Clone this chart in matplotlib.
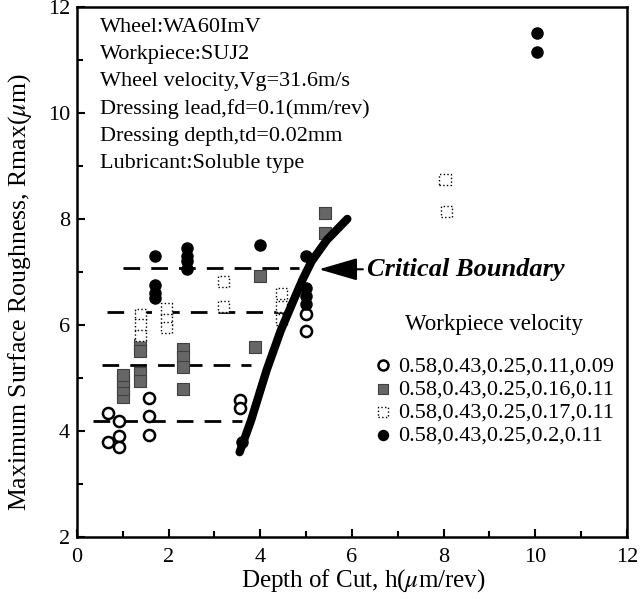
import matplotlib
matplotlib.use('Agg')
import matplotlib.pyplot as plt
from matplotlib.ticker import MultipleLocator

plt.rcParams['font.family'] = ['Liberation Serif', 'DejaVu Serif']
plt.rcParams['mathtext.fontset'] = 'stix'

# workpiece velocity groups
open_h = [0.68, 0.92, 0.68, 0.92, 0.92, 1.58, 1.58, 1.58, 3.56, 3.56, 5.0, 5.0]
open_r = [4.33, 4.19, 3.80, 3.91, 3.70, 4.62, 4.28, 3.92, 4.58, 4.43, 6.21, 5.89]

grey_h = [1.0, 1.0, 1.0, 1.0, 1.38, 1.38, 1.38, 1.38, 2.31, 2.31, 2.31, 2.31, 3.89, 4.0, 5.41, 5.41]
grey_r = [4.65, 4.8, 4.95, 5.05, 5.62, 5.5, 5.1, 4.95, 5.55, 5.4, 5.2, 4.8, 5.59, 6.93, 8.11, 7.74]

dot_h = [1.38, 1.38, 1.38, 1.96, 1.96, 1.96, 3.19, 3.19, 4.47, 4.47, 4.47, 8.03, 8.07]
dot_r = [6.2, 6.0, 5.8, 6.3, 6.1, 5.95, 6.82, 6.35, 6.6, 6.35, 6.1, 8.74, 8.14]

fill_h = [1.70, 1.70, 1.70, 1.70, 2.40, 2.40, 2.40, 2.40, 4.0, 5.0, 5.0, 5.0, 5.0, 3.6, 10.04, 10.04]
fill_r = [7.30, 6.75, 6.6, 6.5, 7.45, 7.3, 7.2, 7.05, 7.5, 7.3, 6.7, 6.55, 6.4, 3.8, 11.5, 11.14]

labels = ['0.58,0.43,0.25,0.11,0.09', '0.58,0.43,0.25,0.16,0.11',
          '0.58,0.43,0.25,0.17,0.11', '0.58,0.43,0.25,0.2,0.11']

# critical boundary curve
bound_h = [3.55, 3.8, 4.14, 4.45, 4.72, 4.92, 5.12, 5.45, 5.9]
bound_r = [3.6, 4.2, 5.15, 5.9, 6.45, 6.85, 7.2, 7.6, 8.0]

# dashed reference levels: (level, start, end)
levels = [7.07, 6.25, 5.25, 4.18]
lev_start = [1.0, 0.65, 0.54, 0.36]
lev_end = [4.85, 4.6, 3.8, 3.6]

info = ['Wheel:WA60ImV', 'Workpiece:SUJ2', 'Wheel velocity,Vg=31.6m/s',
        'Dressing lead,fd=0.1(mm/rev)', 'Dressing depth,td=0.02mm',
        'Lubricant:Soluble type']

fig = plt.figure(figsize=(6.41, 5.99), dpi=100)
ax = fig.add_axes([0.120, 0.1035, 0.858, 0.885])

for lv, a, b in zip(levels, lev_start, lev_end):
    ax.plot([a, b], [lv, lv], color='black', lw=2, dashes=(6, 4), zorder=1)

h1 = ax.scatter(open_h, open_r, s=64, facecolors='white', edgecolors='black', linewidths=1.8, zorder=3)
h2 = ax.scatter(grey_h, grey_r, s=64, marker='s', facecolors='0.4', edgecolors='0.25', linewidths=0.8, zorder=3)
h3 = ax.scatter(dot_h, dot_r, s=64, marker='s', facecolors='white', edgecolors='black',
                linewidths=1.0, linestyles=':', zorder=3)
h4 = ax.scatter(fill_h, fill_r, s=64, facecolors='black', edgecolors='black', zorder=3)

ax.plot(bound_h, bound_r, color='black', lw=6, solid_capstyle='round', zorder=4)

ax.annotate('', xy=(5.22, 7.05), xytext=(6.3, 7.05),
            arrowprops=dict(arrowstyle='-|>,head_length=1.2,head_width=0.35',
                            color='black', lw=1.5, mutation_scale=20), zorder=5)
ax.text(6.33, 7.05, 'Critical Boundary', fontsize=19, fontweight='bold', fontstyle='italic',
        va='center', ha='left')

for i, line in enumerate(info):
    ax.text(0.042, 0.962 - i * 0.0515, line, transform=ax.transAxes, fontsize=16, va='center')

ax.text(0.758, 0.40, 'Workpiece velocity', transform=ax.transAxes, fontsize=16.5,
        ha='center', va='center')
ax.legend([h1, h2, h3, h4], labels, loc='upper left', bbox_to_anchor=(0.545, 0.342),
          frameon=False, fontsize=16, borderpad=0, borderaxespad=0,
          handlelength=0.6, handletextpad=0.35, labelspacing=0.12, markerscale=0.9)

ax.set_xlim(0, 12)
ax.set_ylim(2, 12)
ax.xaxis.set_major_locator(MultipleLocator(2))
ax.xaxis.set_minor_locator(MultipleLocator(1))
ax.yaxis.set_major_locator(MultipleLocator(2))
ax.yaxis.set_minor_locator(MultipleLocator(1))
ax.tick_params(which='both', direction='in', labelsize=16, width=1.5)
ax.tick_params(which='major', length=6, pad=5)
ax.tick_params(which='minor', length=4)
ax.tick_params(axis='x', which='major', pad=8)
for sp in ax.spines.values():
    sp.set_linewidth(1.8)

ax.set_xlabel(r'Depth of Cut, h($\mu$m/rev)', fontsize=18)
ax.set_ylabel(r'Maximum Surface Roughness, Rmax($\mu$m)', fontsize=18.5)
ax.xaxis.set_label_coords(0.52, -0.056)
ax.yaxis.set_label_coords(-0.078, 0.462)

fig.savefig('out.png', dpi=100)
